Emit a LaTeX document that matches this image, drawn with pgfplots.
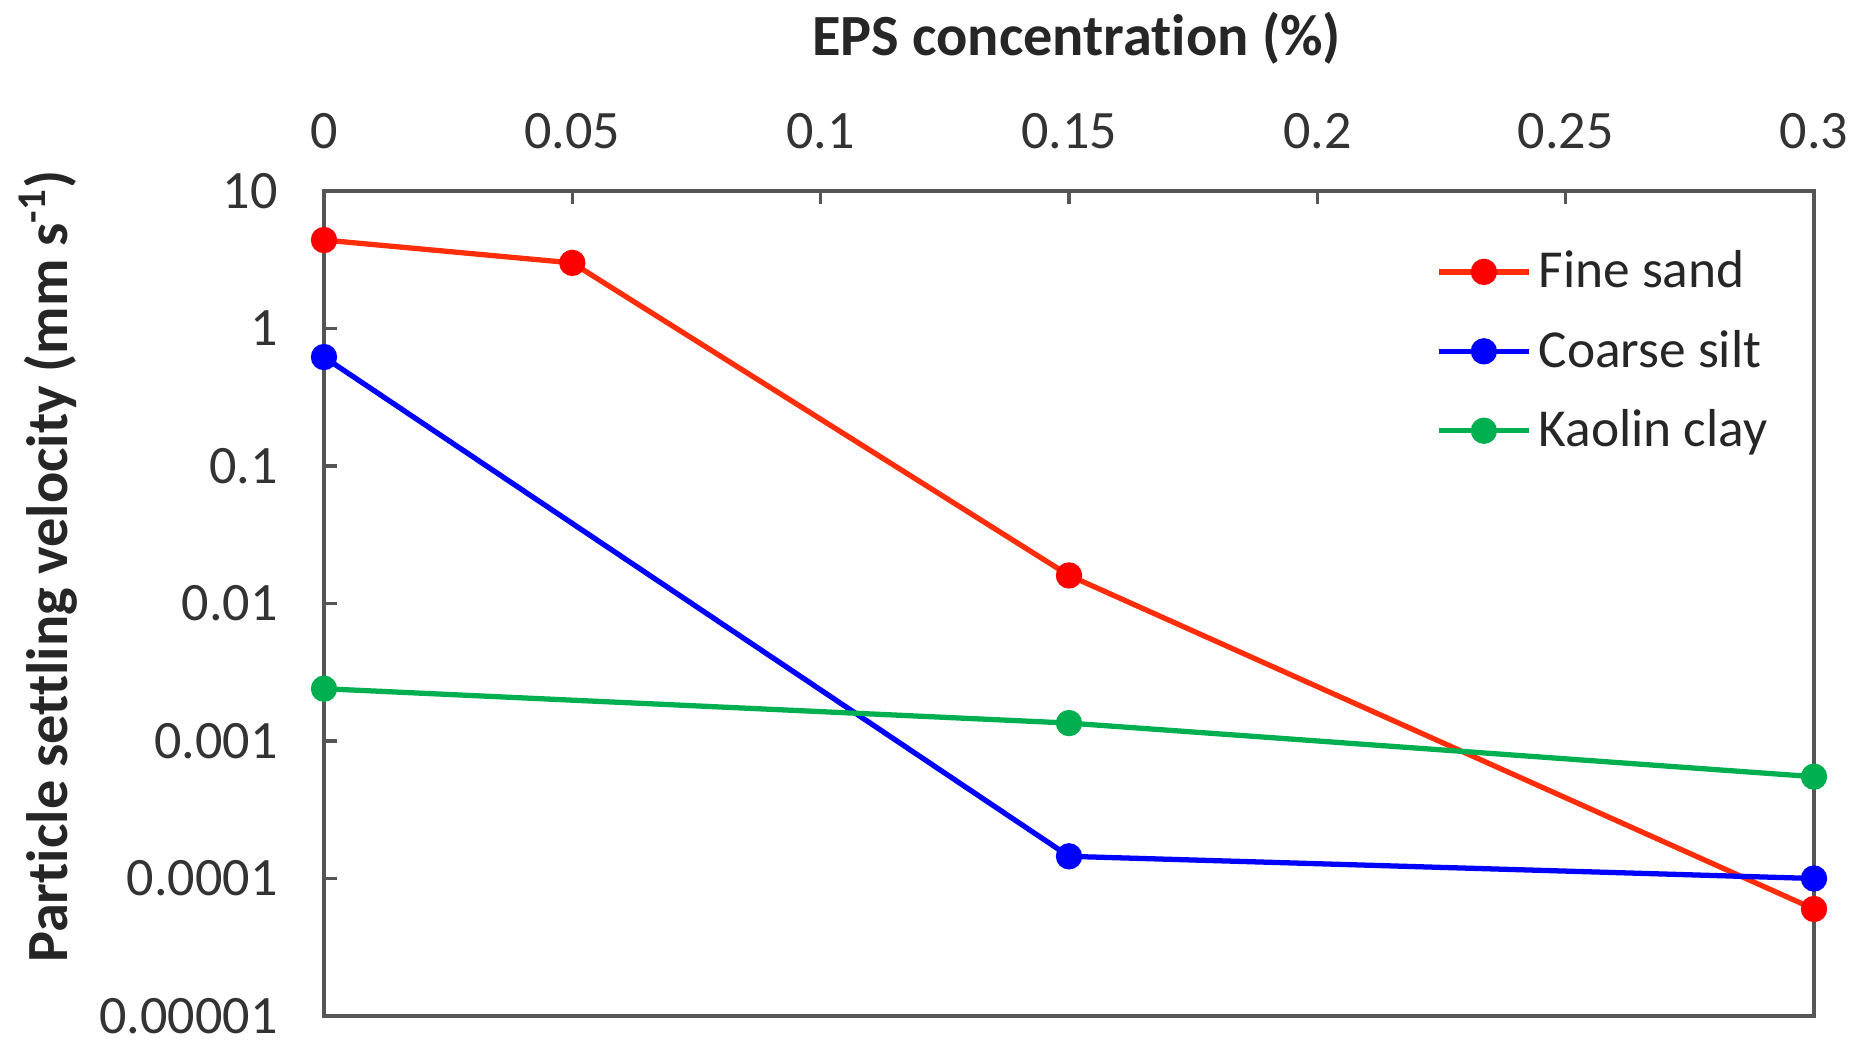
\documentclass[border=0pt]{standalone}
\usepackage{fontspec}
\setmainfont{Carlito}[Ligatures={NoCommon}]
\usepackage{pgfplots}
\pgfplotsset{compat=1.18}
\usetikzlibrary{calc}

\definecolor{sandline}{RGB}{255,45,10}
\definecolor{sandmark}{RGB}{255,0,0}
\definecolor{siltblue}{RGB}{0,0,255}
\definecolor{claygreen}{RGB}{0,176,80}
\definecolor{axisgray}{RGB}{85,85,85}

\begin{document}
\begin{tikzpicture}
\begin{axis}[
    name=ax,
    scale only axis,
    width=14.9cm, height=8.25cm,
    ymode=log,
    xmin=0, xmax=0.3,
    ymin=1e-5, ymax=10,
    axis line style={axisgray, line width=1.1pt},
    tick style={axisgray, line width=1pt},
    tick align=inside,
    major tick length=1.3mm,
    xtick pos=upper, ytick pos=left,
    minor tick num=0,
    log basis y=10,
    yminorticks=false,
    xtick={0,0.05,0.1,0.15,0.2,0.25,0.3},
    xticklabels={0,0.05,0.1,0.15,0.2,0.25,0.3},
    ytick={1e-5,1e-4,1e-3,1e-2,1e-1,1,10},
    yticklabels={0.00001,0.0001,0.001,0.01,0.1,1,10},
    ticklabel style={font=\fontsize{15.4}{18}\selectfont, text=black!80},
    xticklabel style={yshift=3.0mm},
    yticklabel style={xshift=-3.4mm},
    xlabel={\bfseries EPS concentration (\%)},
    ylabel={\bfseries Particle settling velocity (mm s\textsuperscript{-1})},
    label style={font=\fontsize{16.6}{20}\selectfont, text=black!85},
    xlabel style={at={(axis description cs:0.505,1)}, anchor=center, yshift=1.53cm},
    ylabel style={at={(axis description cs:-0.185,0.545)}, anchor=center, rotate=0},
    legend style={at={(axis description cs:0.746,0.937)}, anchor=north west,
        draw=none, fill=none, font=\fontsize{15.2}{18}\selectfont,
        row sep=2.3mm, inner sep=0pt, text=black!85,
        legend cell align=left},
    legend image code/.code={
        \draw[mark repeat=2, mark phase=2] plot coordinates {(0cm,0cm) (0.45cm,0cm) (0.9cm,0cm)};
    },
]
% Fine sand
\addplot[sandline, line width=1.5pt, mark=*, mark size=1.05mm,
    mark options={fill=sandmark, draw=sandmark}] coordinates {
    (0,4.4) (0.05,3.0) (0.15,0.016) (0.3,0.00006)
};
\addlegendentry{Fine sand}
% Coarse silt
\addplot[siltblue, line width=1.5pt, mark=*, mark size=1.05mm,
    mark options={fill=siltblue}] coordinates {
    (0,0.62) (0.15,0.000145) (0.3,0.0001)
};
\addlegendentry{Coarse silt}
% Kaolin clay
\addplot[claygreen, line width=1.5pt, mark=*, mark size=1.05mm,
    mark options={fill=claygreen}] coordinates {
    (0,0.0024) (0.15,0.00135) (0.3,0.00055)
};
\addlegendentry{Kaolin clay}
\end{axis}
\pgfresetboundingbox
\path[use as bounding box] ($(ax.south west)+(-3.24cm,-0.3cm)$) rectangle ($(ax.north east)+(0.55cm,1.91cm)$);
\end{tikzpicture}
\end{document}
